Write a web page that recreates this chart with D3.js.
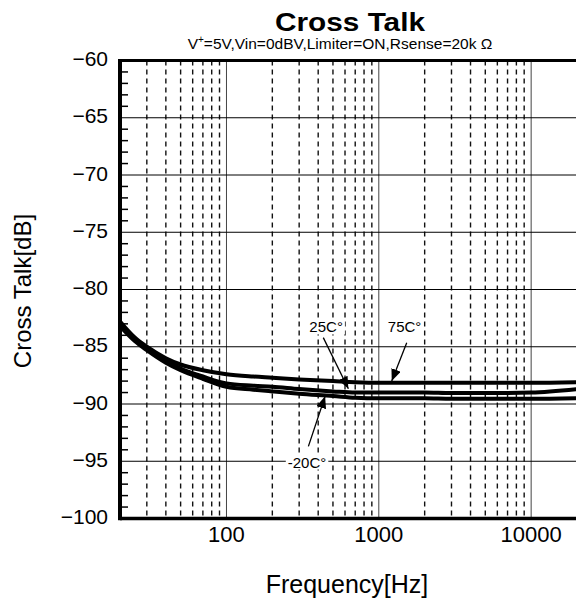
<!DOCTYPE html>
<html>
<head>
<meta charset="utf-8">
<script src="https://cdn.jsdelivr.net/npm/d3@7/dist/d3.min.js"></script>
<style>
html,body{margin:0;padding:0;background:#fff;}
svg{display:block;}
text{font-family:"Liberation Sans",Arial,Helvetica,sans-serif;fill:#000;}
</style>
</head>
<body>
<div id="chart"></div>
<script>
// ---- data ----
const freqs   = [20, 25, 30, 40, 50, 70, 100, 150, 200, 300, 500, 700, 1000, 2000, 3000, 5000, 10000, 20000];
const t75     = [-82.8, -84.2, -85.0, -86.0, -86.55, -87.05, -87.4, -87.6, -87.7, -87.85, -88.0, -88.1, -88.15, -88.15, -88.15, -88.15, -88.15, -88.1];
const t25     = [-83.0, -84.3, -85.2, -86.2, -86.9, -87.6, -88.2, -88.4, -88.5, -88.7, -88.9, -89.0, -89.0, -89.0, -89.05, -89.05, -89.0, -88.7];
const tm20    = [-83.2, -84.5, -85.3, -86.4, -87.05, -87.8, -88.5, -88.75, -88.9, -89.1, -89.3, -89.45, -89.5, -89.5, -89.55, -89.55, -89.55, -89.5];
const seriesNames = ["75C°", "25C°", "-20C°"];
const yTicks  = [-60, -65, -70, -75, -80, -85, -90, -95, -100];
const xTicks  = [100, 1000, 10000];
const xDomain = [20, 20000];
const yDomain = [-100, -60];
// annotation anchors in data units: label, text position, arrow tail, arrow tip
const annLabels = ["25C°", "75C°", "-20C°"];
const annText   = [[451, -83.75], [1476, -83.75], [338, -95.55]];
const annTail   = [[432, -84.2], [1525, -84.65], [345, -93.7]];
const annTip    = [[631, -88.67], [1216, -88.0], [444, -89.32]];

// ---- layout ----
const W = 576, H = 603;
const L = 120, R = 577, T = 60.5, B = 518.5;

const svg = d3.select("#chart").append("svg").attr("width", W).attr("height", H);
svg.append("rect").attr("width", W).attr("height", H).attr("fill", "#fff");

const x = d3.scaleLog().domain(xDomain).range([L, R]);
const y = d3.scaleLinear().domain(yDomain).range([B, T]);

const g = svg.append("g");

// minor vertical dashed gridlines
const minor = [];
for (let dec = 10; dec <= 10000; dec *= 10) {
  for (let m = 2; m <= 9; m++) {
    const v = dec * m;
    if (v > xDomain[0] && v < xDomain[1]) minor.push(v);
  }
}
g.selectAll(".minor").data(minor).enter().append("line")
  .attr("x1", d => x(d)).attr("x2", d => x(d))
  .attr("y1", T).attr("y2", B)
  .attr("stroke", "#111").attr("stroke-width", 1.4)
  .attr("stroke-dasharray", "5,4");

// major vertical gridlines
g.selectAll(".major").data(xTicks).enter().append("line")
  .attr("x1", d => x(d)).attr("x2", d => x(d))
  .attr("y1", T).attr("y2", B)
  .attr("stroke", "#444").attr("stroke-width", 1);

// horizontal gridlines
g.selectAll(".hgrid").data(yTicks.filter(d => d !== -60 && d !== -100)).enter().append("line")
  .attr("x1", L).attr("x2", R)
  .attr("y1", d => y(d)).attr("y2", d => y(d))
  .attr("stroke", "#000").attr("stroke-width", 1);

// left minor ticks (every 1 dB)
const yMinor = d3.range(-99, -60).filter(d => d % 5 !== 0);
g.selectAll(".ytick").data(yMinor).enter().append("line")
  .attr("x1", L).attr("x2", L + 8)
  .attr("y1", d => y(d)).attr("y2", d => y(d))
  .attr("stroke", "#000").attr("stroke-width", 1.5);

// curves
const line = d3.line()
  .x(d => x(d[0])).y(d => y(d[1]))
  .curve(d3.curveMonotoneX);
[t75, t25, tm20].forEach((s, i) => {
  g.append("path")
    .datum(freqs.map((f, j) => [f, s[j]]))
    .attr("d", line)
    .attr("fill", "none")
    .attr("stroke", "#000")
    .attr("stroke-width", 4)
    .attr("stroke-linejoin", "round")
    .attr("data-name", seriesNames[i]);
});

// frame
g.append("line").attr("x1", L).attr("x2", R).attr("y1", T).attr("y2", T).attr("stroke", "#000").attr("stroke-width", 3);
g.append("line").attr("x1", L).attr("x2", R).attr("y1", B).attr("y2", B).attr("stroke", "#000").attr("stroke-width", 3.5);
g.append("line").attr("x1", L).attr("x2", L).attr("y1", T - 1.5).attr("y2", B + 1.75).attr("stroke", "#000").attr("stroke-width", 4);

// annotations
const defs = svg.append("defs");
defs.append("marker").attr("id", "ah")
  .attr("viewBox", "0 0 12 10").attr("refX", 12).attr("refY", 5)
  .attr("markerWidth", 12).attr("markerHeight", 10)
  .attr("markerUnits", "userSpaceOnUse")
  .attr("orient", "auto")
  .append("path").attr("d", "M0,0 L12,5 L0,10 Z").attr("fill", "#000");

annLabels.forEach((lab, i) => {
  g.append("line")
    .attr("x1", x(annTail[i][0])).attr("y1", y(annTail[i][1]))
    .attr("x2", x(annTip[i][0])).attr("y2", y(annTip[i][1]))
    .attr("stroke", "#000").attr("stroke-width", 1.3)
    .attr("marker-end", "url(#ah)");
  const tx = x(annText[i][0]), ty = y(annText[i][1]);
  const t = g.append("text")
    .attr("x", tx).attr("y", ty)
    .attr("text-anchor", "middle")
    .attr("font-size", 15)
    .text(lab);
  const bb = t.node().getBBox();
  g.insert("rect", () => t.node())
    .attr("x", bb.x - 2).attr("y", bb.y + 1)
    .attr("width", bb.width + 4).attr("height", bb.height - 2)
    .attr("fill", "#fff");
});

// y tick labels
svg.selectAll(".ylab").data(yTicks).enter().append("text")
  .attr("x", 108).attr("y", d => y(d) + 5.5)
  .attr("text-anchor", "end")
  .attr("font-size", 21)
  .text(d => String(d).replace("-", "\u2212"));

// x tick labels
svg.selectAll(".xlab").data(xTicks).enter().append("text")
  .attr("x", d => x(d)).attr("y", 542)
  .attr("text-anchor", "middle")
  .attr("font-size", 22)
  .text(d => String(d));

// axis titles
svg.append("text").attr("x", 347).attr("y", 593)
  .attr("text-anchor", "middle").attr("font-size", 25)
  .text("Frequency[Hz]");
svg.append("text")
  .attr("transform", "translate(31,291) rotate(-90)")
  .attr("text-anchor", "middle").attr("font-size", 24)
  .text("Cross Talk[dB]");

// title & subtitle
svg.append("text").attr("x", 350).attr("y", 31)
  .attr("text-anchor", "middle").attr("font-size", 25).attr("font-weight", "bold")
  .attr("textLength", 150).attr("lengthAdjust", "spacingAndGlyphs")
  .text("Cross Talk");
const sub = svg.append("text").attr("x", 340).attr("y", 49)
  .attr("text-anchor", "middle").attr("font-size", 15.5);
sub.append("tspan").text("V");
sub.append("tspan").attr("font-size", 10).attr("dy", -6).text("+");
sub.append("tspan").attr("dy", 6).text("=5V,Vin=0dBV,Limiter=ON,Rsense=20k Ω");
</script>
</body>
</html>
